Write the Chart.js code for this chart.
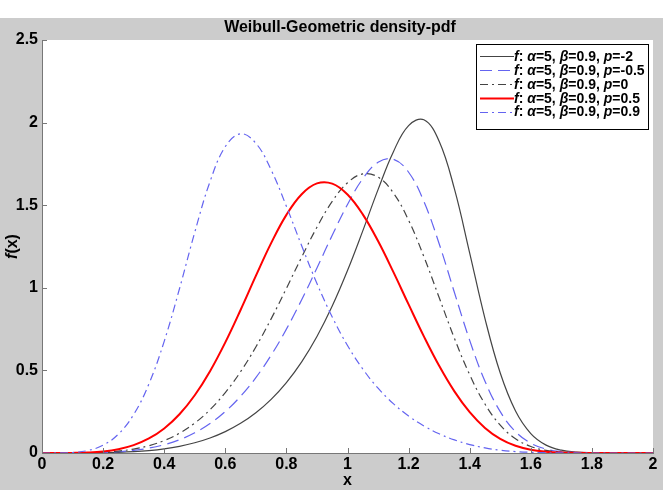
<!DOCTYPE html>
<html>
<head>
<meta charset="utf-8">
<script src="https://cdn.jsdelivr.net/npm/chart.js@4.4.0/dist/chart.umd.min.js"></script>
<style>
  html, body { margin: 0; padding: 0; background: #fff; }
</style>
</head>
<body>
<canvas id="myChart" width="663" height="490"></canvas>
<script>
// x grid of the curves, every 0.05
const xValues = [0, 0.05, 0.1, 0.15, 0.2, 0.25, 0.3, 0.35, 0.4, 0.45, 0.5, 0.55, 0.6, 0.65, 0.7, 0.75, 0.8, 0.85, 0.9, 0.95,
    1, 1.05, 1.1, 1.15, 1.2, 1.25, 1.3, 1.35, 1.4, 1.45, 1.5, 1.55, 1.6, 1.65, 1.7, 1.75, 1.8, 1.85, 1.9, 1.95, 2];

const xTicks = [0, 0.2, 0.4, 0.6, 0.8, 1, 1.2, 1.4, 1.6, 1.8, 2];
const yTicks = [0, 0.5, 1, 1.5, 2, 2.5];

// f(x) for each p (alpha=5, beta=0.9)
const pNeg2 = [0, 0, 0.0001, 0.0005, 0.0016, 0.0038, 0.008, 0.0148, 0.0252, 0.0405, 0.0619, 0.0909, 0.1295, 0.1795, 0.2437, 0.3248, 0.4263, 0.5519, 0.7053, 0.8893,
    1.1043, 1.3445, 1.5944, 1.8227, 1.982, 2.0169, 1.8874, 1.5984, 1.2104, 0.8137, 0.4841, 0.2544, 0.1178, 0.0478, 0.0169, 0.0051, 0.0013, 0.0003, 0, 0, 0];
const pNeg05 = [0, 0, 0.0002, 0.001, 0.0032, 0.0077, 0.0159, 0.0295, 0.0503, 0.0804, 0.1223, 0.1783, 0.2511, 0.3431, 0.4562, 0.5918, 0.7497, 0.9277, 1.1203, 1.3177,
    1.5046, 1.6603, 1.7596, 1.7784, 1.6994, 1.5222, 1.2668, 0.9716, 0.6817, 0.4347, 0.2503, 0.1292, 0.0593, 0.024, 0.0085, 0.0026, 0.0007, 0.0001, 0, 0, 0];
const pZero = [0, 0, 0.0003, 0.0015, 0.0047, 0.0115, 0.0239, 0.0442, 0.0751, 0.1198, 0.1812, 0.2623, 0.3655, 0.4921, 0.6419, 0.812, 0.9966, 1.1859, 1.3669, 1.5229,
    1.6358, 1.6891, 1.6701, 1.5747, 1.4086, 1.1891, 0.9414, 0.6944, 0.4737, 0.2964, 0.1687, 0.0865, 0.0396, 0.016, 0.0056, 0.0017, 0.0004, 0.0001, 0, 0, 0];
const pHalf = [0, 0, 0.0006, 0.003, 0.0094, 0.023, 0.0476, 0.0878, 0.1485, 0.2344, 0.3494, 0.4951, 0.6695, 0.8658, 1.0718, 1.2702, 1.4414, 1.5664, 1.6318, 1.6305,
    1.5648, 1.4444, 1.2828, 1.0961, 0.8993, 0.7062, 0.528, 0.3732, 0.247, 0.1516, 0.0853, 0.0435, 0.0198, 0.008, 0.0028, 0.0009, 0.0002, 0, 0, 0, 0];
const p09 = [0, 0.0002, 0.003, 0.0149, 0.0471, 0.1141, 0.2328, 0.4181, 0.6759, 0.9942, 1.3358, 1.6427, 1.8543, 1.9321, 1.875, 1.7138, 1.4933, 1.2545, 1.0264, 0.8234,
    0.6508, 0.5084, 0.3925, 0.2991, 0.224, 0.164, 0.1164, 0.0792, 0.0511, 0.0309, 0.0172, 0.0087, 0.004, 0.0016, 0.0006, 0.0002, 0, 0, 0, 0, 0];

const pLabels = ["-2", "-0.5", "0", "0.5", "0.9"];

const FONT = '"Liberation Sans", Arial, sans-serif';
const blue = "rgb(100,100,240)";

const styles = [
    {color: "#444444", width: 1.2, dash: []},
    {color: blue, width: 1.2, dash: [12, 6]},
    {color: "#444444", width: 1.2, dash: [8, 4, 2, 4]},
    {color: "#ff0000", width: 2, dash: []},
    {color: blue, width: 1.2, dash: [8, 4, 2, 4]}
];

const series = [pNeg2, pNeg05, pZero, pHalf, p09];

const datasets = series.map((ys, i) => ({
    label: "p=" + pLabels[i],
    data: xValues.map((x, j) => ({x: x, y: ys[j]})),
    borderColor: styles[i].color,
    borderWidth: styles[i].width,
    borderDash: styles[i].dash,
    pointRadius: 0,
    fill: false,
    tension: 0.4,
    order: 5 - i          // later curves on top, like matlab
}));

// writes a line of text where some pieces are italic
const drawRich = (ctx, parts, x, y, size) => {
    parts.forEach(([txt, italic]) => {
        ctx.font = (italic ? "italic " : "") + "bold " + size + "px " + FONT;
        ctx.fillText(txt, x, y);
        x += ctx.measureText(txt).width;
    });
    return x;
};

const matlabLook = {
    id: "matlabLook",
    beforeDraw(chart) {
        const {ctx, chartArea: a, width, height} = chart;
        ctx.save();
        ctx.fillStyle = "#ffffff";
        ctx.fillRect(0, 0, width, height);
        ctx.fillStyle = "#cccccc";
        ctx.fillRect(0, 18, width, height - 18);
        ctx.fillStyle = "#ffffff";
        ctx.fillRect(a.left, a.top, a.right - a.left, a.bottom - a.top);
        ctx.restore();
    },
    afterDatasetsDraw(chart) {
        const {ctx, chartArea: a, scales} = chart;
        ctx.save();
        // inward ticks
        ctx.strokeStyle = "#777777";
        ctx.lineWidth = 1;
        ctx.beginPath();
        xTicks.forEach(v => {
            const px = Math.round(scales.x.getPixelForValue(v)) + 0.5;
            ctx.moveTo(px, a.bottom);
            ctx.lineTo(px, a.bottom - 5);
        });
        yTicks.forEach(v => {
            const py = Math.round(scales.y.getPixelForValue(v)) + 0.5;
            ctx.moveTo(a.left, py);
            ctx.lineTo(a.left + 5, py);
        });
        ctx.stroke();

        // legend box
        const bx = a.right - 177, by = a.top + 4, bw = 172, bh = 85;
        ctx.fillStyle = "#ffffff";
        ctx.fillRect(bx, by, bw, bh);
        ctx.strokeStyle = "#000000";
        ctx.strokeRect(bx + 0.5, by + 0.5, bw, bh);
        ctx.textBaseline = "middle";
        ctx.fillStyle = "#000000";
        pLabels.forEach((p, i) => {
            const ry = by + 12 + i * 13.9;
            ctx.save();
            ctx.strokeStyle = styles[i].color;
            ctx.lineWidth = styles[i].width;
            ctx.setLineDash(styles[i].dash);
            ctx.beginPath();
            ctx.moveTo(bx + 4, Math.round(ry) + 0.5);
            ctx.lineTo(bx + 38, Math.round(ry) + 0.5);
            ctx.stroke();
            ctx.restore();
            drawRich(ctx, [["f", true], [": ", false], ["\u03B1", true], ["=5, ", false],
                ["\u03B2", true], ["=0.9, ", false], ["p", true], ["=" + p, false]], bx + 38, ry + 1, 14);
        });
        ctx.restore();
    },
    afterDraw(chart) {
        const {ctx, chartArea: a} = chart;
        ctx.save();
        ctx.fillStyle = "#000000";
        ctx.textAlign = "center";
        ctx.textBaseline = "middle";
        ctx.font = "bold 16px " + FONT;
        ctx.fillText("Weibull-Geometric density-pdf", 340, 28);
        ctx.fillText("x", (a.left + a.right) / 2, 481);

        // f(x) rotated
        ctx.translate(13, (a.top + a.bottom) / 2);
        ctx.rotate(-Math.PI / 2);
        ctx.textAlign = "left";
        ctx.font = "bold 16px " + FONT;
        const w1 = ctx.measureText("(x)").width;
        ctx.font = "italic bold 16px " + FONT;
        const w0 = ctx.measureText("f").width;
        drawRich(ctx, [["f", true], ["(x)", false]], -(w0 + w1) / 2, 0, 16);
        ctx.restore();
    }
};

const tickFont = {family: FONT, size: 16, weight: "bold"};

const ctx = document.getElementById("myChart").getContext("2d");
const myChart = new Chart(ctx, {
    type: "line",
    data: {datasets: datasets},
    options: {
        responsive: false,
        animation: false,
        layout: {padding: {top: 40, right: 10, left: 0, bottom: 0}},
        plugins: {
            legend: {display: false},
            title: {display: false},
            tooltip: {enabled: false}
        },
        scales: {
            x: {
                type: "linear",
                min: 0,
                max: 2,
                afterFit: (scale) => { scale.height = 37; },
                afterBuildTicks: (scale) => { scale.ticks = xTicks.map(v => ({value: v})); },
                ticks: {font: tickFont, color: "#000", padding: 2, maxRotation: 0, autoSkip: false,
                    callback: (v) => String(v)},
                grid: {drawOnChartArea: false, drawTicks: false},
                border: {color: "#777777", width: 1}
            },
            y: {
                type: "linear",
                min: 0,
                max: 2.5,
                afterFit: (scale) => { scale.width = 42; },
                afterBuildTicks: (scale) => { scale.ticks = yTicks.map(v => ({value: v})); },
                ticks: {font: tickFont, color: "#000", padding: 4, autoSkip: false,
                    callback: (v) => String(v)},
                grid: {drawOnChartArea: false, drawTicks: false},
                border: {color: "#777777", width: 1}
            }
        }
    },
    plugins: [matlabLook]
});
</script>
</body>
</html>
